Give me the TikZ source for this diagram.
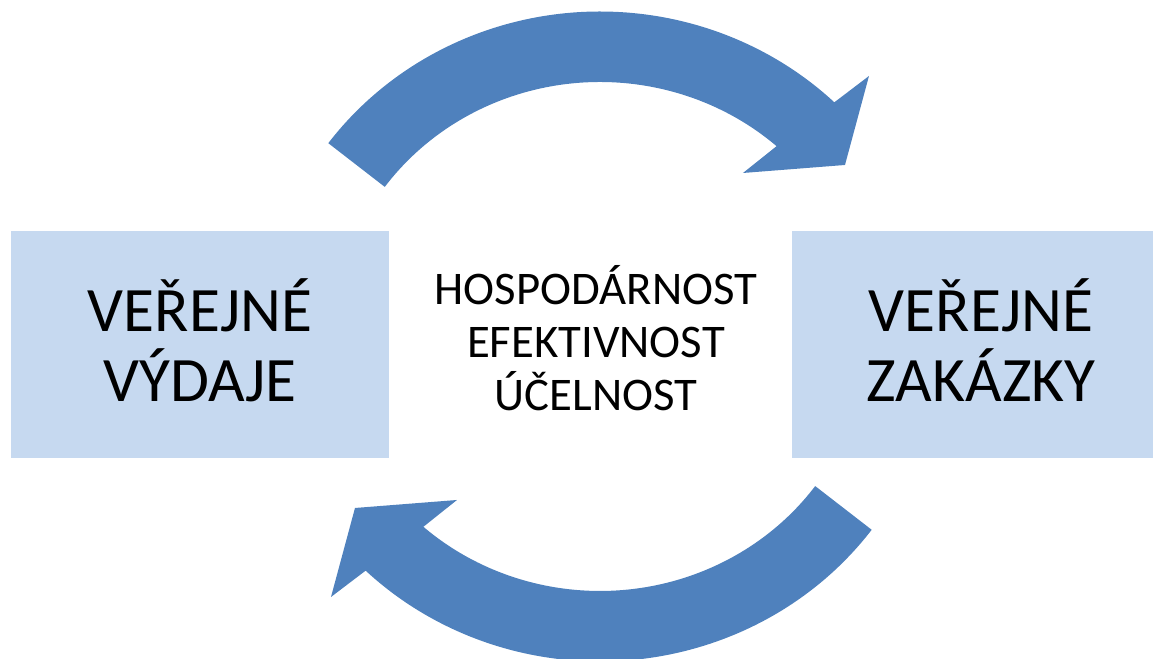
\documentclass[tikz,border=0pt]{standalone}
\usepackage{fontspec}
\setmainfont{Carlito}
\usepackage{tikz}
\usetikzlibrary{positioning, calc}

\definecolor{arrowblue}{HTML}{4F81BD}
\definecolor{boxblue}{HTML}{C6D9F0}

\begin{document}
\begin{tikzpicture}[x=0.01cm, y=0.01cm,
  box/.style={fill=boxblue, minimum width=3.78cm, minimum height=2.27cm, inner sep=0pt,
    align=center, text depth=0.08cm, font=\fontsize{18}{19.9}\selectfont},
  criteria/.style={align=center, inner sep=0pt, font=\fontsize{13.3}{15.1}\selectfont},
  cyclearrow/.style={fill=arrowblue}]

\useasboundingbox (-600,-322.5) rectangle (553,336.5);

% --- Boxes ---
\node[box] (vydaje) at (-400,-8) {VEŘEJNÉ\\VÝDAJE};
\node[box] (zakazky) at (381,-8) {VEŘEJNÉ\\ZAKÁZKY};

% --- Criteria in the middle ---
\node[criteria] (kriteria) at (-4,-1.5) {HOSPODÁRNOST\\EFEKTIVNOST\\ÚČELNOST};

% --- Upper arrow (left to right) ---
\fill[cyclearrow] (143.5:338 and 325)
  arc[start angle=143.5, end angle=46.1, x radius=338, y radius=325]
  -- (269,260.5) -- (245,171.5) -- (143,163.5) -- (48.4:266 and 254.5)
  arc[start angle=48.4, end angle=144, x radius=266, y radius=254.5] -- cycle;

% --- Lower arrow (right to left) ---
\fill[cyclearrow, rotate=180] (143.5:338 and 325)
  arc[start angle=143.5, end angle=46.1, x radius=338, y radius=325]
  -- (269,260.5) -- (245,171.5) -- (143,163.5) -- (48.4:266 and 254.5)
  arc[start angle=48.4, end angle=144, x radius=266, y radius=254.5] -- cycle;

\end{tikzpicture}
\end{document}
